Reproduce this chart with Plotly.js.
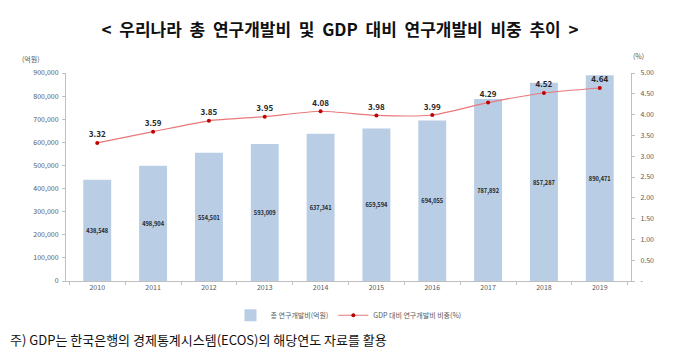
<!DOCTYPE html>
<html>
<head>
<meta charset="utf-8">
<script src="https://cdn.plot.ly/plotly-3.0.1.min.js"></script>
<style>
html,body{margin:0;padding:0;background:#fff;}
#chart{width:680px;height:357px;}
</style>
</head>
<body>
<div id="chart"></div>
<script>
const years = ['2010','2011','2012','2013','2014','2015','2016','2017','2018','2019'];
const rdTotal = [438548, 498904, 554501, 593009, 637341, 659594, 694055, 787892, 857287, 890471];
const rdRatio = [3.32, 3.59, 3.85, 3.95, 4.08, 3.98, 3.99, 4.29, 4.52, 4.64];
const rightTickVals = [0, 0.5, 1, 1.5, 2, 2.5, 3, 3.5, 4, 4.5, 5];
const rightTickText = ['-', '0.50', '1.00', '1.50', '2.00', '2.50', '3.00', '3.50', '4.00', '4.50', '5.00'];
const barName = '총 연구개발비(억원)';
const lineName = 'GDP 대비 연구개발비 비중(%)';

const KR = '"Noto Sans CJK KR", "Noto Sans", sans-serif';

const traces = [
  {
    type: 'bar',
    name: barName,
    x: years,
    y: rdTotal,
    width: 0.5,
    marker: {color: '#b9cde5'},
    text: rdTotal.map(v => '<b>' + v.toLocaleString('en-US') + '</b>'),
    textposition: 'inside',
    insidetextanchor: 'middle',
    textangle: 0,
    textfont: {family: KR, size: 8.5, color: '#262626'},
    hoverinfo: 'skip'
  },
  {
    type: 'scatter',
    name: lineName,
    x: years,
    y: rdRatio,
    yaxis: 'y2',
    mode: 'lines+markers+text',
    line: {color: '#e8787a', width: 1.2, shape: 'spline', smoothing: 0.6},
    marker: {color: '#c00000', size: 4},
    text: rdRatio.map(v => '<b>' + v.toFixed(2) + '</b>'),
    textposition: 'top center',
    textfont: {family: KR, size: 8, color: '#262626'},
    cliponaxis: false,
    hoverinfo: 'skip'
  }
];

const layout = {
  width: 680,
  height: 357,
  margin: {l: 66, r: 49, t: 73, b: 76},
  paper_bgcolor: '#ffffff',
  plot_bgcolor: '#ffffff',
  font: {family: KR, size: 7, color: '#595959'},
  title: {
    text: '<  우리나라  총  연구개발비  및  GDP  대비  연구개발비  비중  추이  >',
    font: {family: KR, size: 17, color: '#111111', weight: 700},
    x: 0.5, xanchor: 'center', y: 0.915, yanchor: 'middle'
  },
  showlegend: true,
  legend: {
    orientation: 'h',
    x: 0.5, xanchor: 'center',
    y: -0.095, yanchor: 'top',
    font: {family: KR, size: 7, color: '#595959'},
    itemwidth: 30,
    tracegroupgap: 0
  },
  bargap: 0.5,
  xaxis: {
    type: 'category',
    showline: true,
    linecolor: '#bfbfbf',
    linewidth: 1,
    ticks: 'outside',
    tickson: 'boundaries',
    ticklen: 3,
    tickcolor: '#bfbfbf',
    showgrid: false,
    zeroline: false,
    tickfont: {family: KR, size: 7, color: '#595959'},
    fixedrange: true
  },
  yaxis: {
    range: [0, 900000],
    dtick: 100000,
    tickformat: ',d',
    showline: true,
    linecolor: '#bfbfbf',
    linewidth: 1,
    ticks: 'outside',
    ticklen: 3,
    tickcolor: '#bfbfbf',
    showgrid: false,
    zeroline: false,
    tickfont: {family: KR, size: 7, color: '#595959'},
    ticklabelstandoff: 2
  },
  yaxis2: {
    overlaying: 'y',
    side: 'right',
    range: [0, 5],
    tickvals: rightTickVals,
    ticktext: rightTickText,
    showline: true,
    linecolor: '#bfbfbf',
    linewidth: 1,
    ticks: 'outside',
    ticklen: 3,
    tickcolor: '#bfbfbf',
    showgrid: false,
    zeroline: false,
    tickfont: {family: KR, size: 7, color: '#595959'},
    ticklabelstandoff: 4
  },
  annotations: [
    {text: '(억원)', xref: 'paper', yref: 'paper', x: -0.062, y: 1.035, xanchor: 'center', yanchor: 'bottom', showarrow: false, font: {family: KR, size: 7, color: '#595959'}},
    {text: '(%)', xref: 'paper', yref: 'paper', x: 1.013, y: 1.05, xanchor: 'center', yanchor: 'bottom', showarrow: false, font: {family: KR, size: 7, color: '#595959'}},
    {text: '주) GDP는 한국은행의 경제통계시스템(ECOS)의 해당연도 자료를 활용', xref: 'paper', yref: 'paper', x: -0.102, y: -0.28, xanchor: 'left', yanchor: 'middle', showarrow: false, font: {family: KR, size: 13, color: '#111111'}}
  ]
};

Plotly.newPlot('chart', traces, layout, {displayModeBar: false, staticPlot: true});
</script>
</body>
</html>
